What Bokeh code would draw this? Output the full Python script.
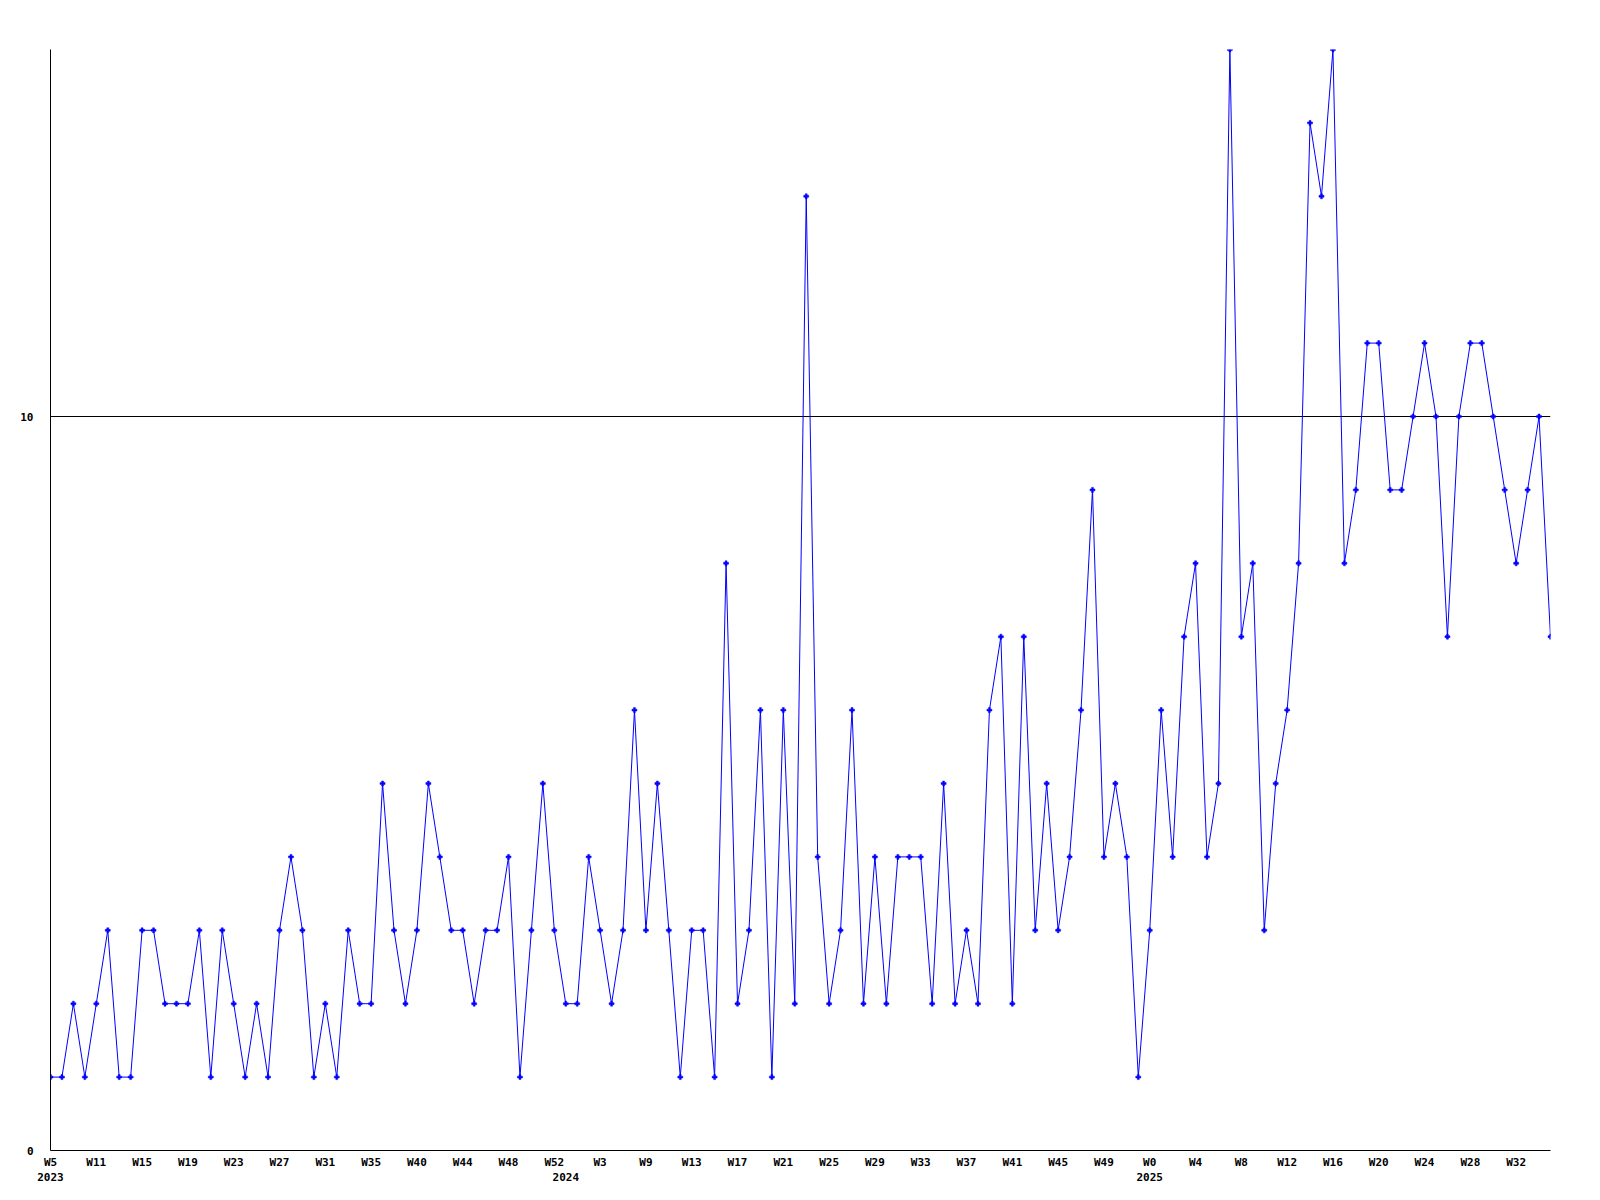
from bokeh.plotting import figure
from bokeh.models import Range1d, FixedTicker, LinearAxis, Grid
from bokeh.embed import file_html
from bokeh.resources import INLINE

# weekly counts, W5 2023 .. W34 2025
values = [1, 1, 2, 1, 2, 3, 1, 1, 3, 3,
          2, 2, 2, 3, 1, 3, 2, 1, 2, 1,
          3, 4, 3, 1, 2, 1, 3, 2, 2, 5,
          3, 2, 3, 5, 4, 3, 3, 2, 3, 3,
          4, 1, 3, 5, 3, 2, 2, 4, 3, 2,
          3, 6, 3, 5, 3, 1, 3, 3, 1, 8,
          2, 3, 6, 1, 6, 2, 13, 4, 2, 3,
          6, 2, 4, 2, 4, 4, 4, 2, 5, 2,
          3, 2, 6, 7, 2, 7, 3, 5, 3, 4,
          6, 9, 4, 5, 4, 1, 3, 6, 4, 7,
          8, 4, 5, 15, 7, 8, 3, 5, 6, 8,
          14, 13, 15, 8, 9, 11, 11, 9, 9, 10,
          11, 10, 7, 10, 11, 11, 10, 9, 8, 9,
          10, 7]
x_idx = list(range(len(values)))

week_tick_pos = [0, 4, 8, 12, 16, 20, 24, 28, 32, 36, 40, 44, 48, 52, 56, 60, 64,
                 68, 72, 76, 80, 84, 88, 92, 96, 100, 104, 108, 112, 116, 120, 124, 128]
week_tick_labels = ["W5", "W11", "W15", "W19", "W23", "W27", "W31", "W35", "W40", "W44",
                    "W48", "W52", "W3", "W9", "W13", "W17", "W21", "W25", "W29", "W33",
                    "W37", "W41", "W45", "W49", "W0", "W4", "W8", "W12", "W16", "W20",
                    "W24", "W28", "W32"]
year_tick_pos = [0, 45, 96]
year_tick_labels = ["2023", "2024", "2025"]
y_ticks = [0, 10]
ref_lines = [10]

FONT = "DejaVu Sans Mono"

p = figure(width=1592, height=1192, output_backend="svg", toolbar_location=None,
           x_range=Range1d(0, len(values) - 1), y_range=Range1d(0, 15),
           min_border_left=50, min_border_right=42, min_border_top=49, min_border_bottom=42,
           x_axis_type=None, y_axis_type=None)
p.outline_line_color = None
p.background_fill_color = "white"


def style_axis(ax, standoff):
    ax.major_tick_line_color = None
    ax.minor_tick_line_color = None
    ax.major_tick_out = 0
    ax.major_tick_in = 0
    ax.minor_tick_out = 0
    ax.minor_tick_in = 0
    ax.major_label_standoff = standoff
    ax.major_label_text_font = FONT
    ax.major_label_text_font_style = "bold"
    ax.major_label_text_font_size = "11px"
    ax.major_label_text_color = "black"


# y axis
yax = LinearAxis(ticker=FixedTicker(ticks=y_ticks))
style_axis(yax, 17)
yax.axis_line_color = "black"
yax.axis_line_width = 1
p.add_layout(yax, "left")

# week axis
xax = LinearAxis(ticker=FixedTicker(ticks=week_tick_pos))
xax.major_label_overrides = {pos: lab for pos, lab in zip(week_tick_pos, week_tick_labels)}
style_axis(xax, 5)
xax.axis_line_color = "black"
xax.axis_line_width = 1
p.add_layout(xax, "below")

# year axis
yrax = LinearAxis(ticker=FixedTicker(ticks=year_tick_pos))
yrax.major_label_overrides = {pos: lab for pos, lab in zip(year_tick_pos, year_tick_labels)}
style_axis(yrax, 1)
yrax.axis_line_color = None
p.add_layout(yrax, "below")

# horizontal reference line at 10
grid = Grid(dimension=1, ticker=FixedTicker(ticks=ref_lines),
            grid_line_color="black", grid_line_width=1, level="underlay")
p.add_layout(grid)

p.line(x_idx, values, line_color="#0000ff", line_width=1)
p.scatter(x_idx, values, marker="plus", size=5, fill_color="#0000ff", line_color="#0000ff",
          line_width=0.5)

open("out.html", "w").write(file_html(p, INLINE))
